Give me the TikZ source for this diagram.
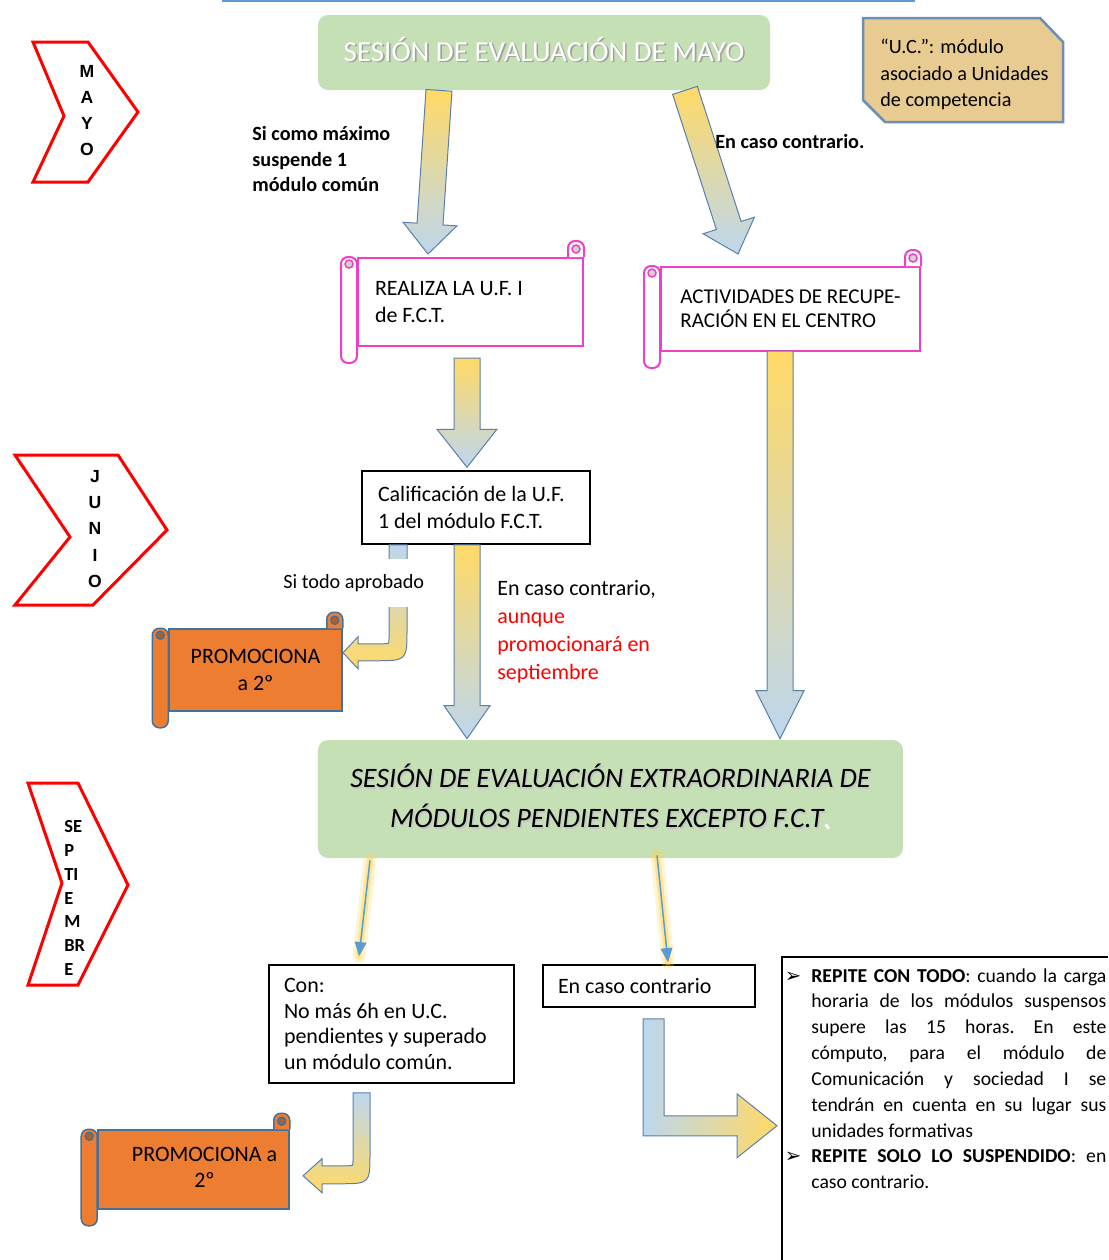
\documentclass[tikz,border=0pt]{standalone}
\usepackage{fontspec}
\setmainfont{Carlito}
\newfontfamily\arialfont{Liberation Sans}
\newfontfamily\simbolos{DejaVu Sans}
\usepackage{tikz}
\usetikzlibrary{arrows,calc,positioning}

\definecolor{verdecaja}{HTML}{C5E0B4}
\definecolor{amarilloflecha}{HTML}{FFD966}
\definecolor{azulflecha}{HTML}{BDD7EE}
\definecolor{bordeflecha}{HTML}{5B7FAA}
\definecolor{rosa}{HTML}{EE3FC6}
\definecolor{naranja}{HTML}{ED7D31}
\definecolor{bordenaranja}{HTML}{41719C}
\definecolor{pergamino}{HTML}{E8CB90}
\definecolor{bordenota}{HTML}{6E8FB5}
\definecolor{azullinea}{HTML}{5B9BD5}
\definecolor{brillo}{HTML}{FFD347}

\newcommand{\flechagorda}[6]{%
	\coordinate (fg-base) at ($(#2)!#5!(#1)$);
	\draw[#6] ($(#1)!#3!90:(#2)$) -- ($(fg-base)!#3!90:(#2)$) -- ($(fg-base)!#4!90:(#2)$) -- (#2) -- ($(fg-base)!#4!-90:(#2)$) -- ($(fg-base)!#3!-90:(#2)$) -- ($(#1)!#3!-90:(#2)$) -- cycle;
}
\newcommand{\rollos}[3]{%
	\draw[#2, rounded corners=1.4mm] ($(#1.north east)+(-16, 0)$) -- ($(#1.north east)+(-16, -16)$) -- ($(#1.north east)+(0, -16)$) -- (#1.north east);
	\draw[#3] ($(#1.north east)+(-8, -8)$) circle [radius=.8mm];
	\draw[#2, rounded corners=1.4mm] ($(#1.north west)+(-16, 0)$) rectangle ($(#1.south west)+(0, 16)$);
	\draw[#3] ($(#1.north west)+(-8, 7)$) circle [radius=.8mm];
}

\begin{document}
\begin{tikzpicture}[x=.2mm, y=-.2mm,
		texto/.style={font=\fontsize{12.5}{15}\selectfont},
		etiqueta/.style={font=\fontsize{11.5}{14.7}\selectfont, inner sep=0, align=left},
		caja/.style={draw=black, fill=white, line width=.3mm, align=flush left, texto},
		verde/.style={fill=verdecaja, rounded corners=2mm},
		cuerporosa/.style={draw=rosa, fill=white, line width=.4mm, align=flush left, texto},
		rollorosa/.style={draw=rosa, fill=white, line width=.4mm},
		rizorosa/.style={draw=rosa, fill=gray!35, line width=.3mm},
		cuerponaranja/.style={draw=bordenaranja, fill=naranja, line width=.3mm, align=center, texto},
		rollonaranja/.style={draw=bordenaranja, fill=naranja, line width=.3mm},
		rizonaranja/.style={draw=bordenaranja, fill=naranja!75!black, line width=.3mm},
		chevron/.style={draw=red, fill=white, line width=.6mm},
		mesletra/.style={font={\arialfont\bfseries\fontsize{10}{14.9}\selectfont}, align=center, inner sep=0},
		flechaT/.style={draw=bordeflecha, line width=.2mm, top color=amarilloflecha, bottom color=azulflecha},
		flechacurva/.style={draw=bordeflecha, line width=.2mm, top color=azulflecha, bottom color=amarilloflecha},
		flechaL/.style={draw=bordeflecha, line width=.2mm, left color=azulflecha, right color=amarilloflecha},
		brillo1/.style={draw=brillo, line width=2.6mm, opacity=.25, line cap=round},
		brillo2/.style={draw=brillo, line width=1.3mm, opacity=.45, line cap=round},
		flechafina/.style={draw=azullinea, line width=.3mm, -triangle 45}]
	\useasboundingbox (0, 0) rectangle (1108, 1260);
	\draw[azullinea, line width=.5mm] (222, 1) -- (915, 1);

	\draw[chevron] (33, 42) -- (88, 42) -- (138, 112) -- (88, 182) -- (33, 182) -- (64, 116) -- cycle;
	\node (mes-mayo) at (87, 110.5) [mesletra] {M\\A\\Y\\O};
	\draw[chevron] (15, 455) -- (118, 455) -- (167, 530) -- (93, 605) -- (15, 605) -- (70, 537) -- cycle;
	\node (mes-junio) at (95, 529) [mesletra] {J\\U\\N\\I\\O};
	\draw[chevron] (28, 783) -- (78, 783) -- (128, 885) -- (78, 985) -- (28, 985) -- (62, 883) -- cycle;
	\node (mes-sept) at (64, 898) [anchor=west, inner sep=0, align=left, font={\bfseries\fontsize{10.5}{13.5}\selectfont}] {SE\\P\\TI\\E\\M\\BR\\E};

	\node (mayo) at (544, 52.5) [verde, minimum width=90.4mm, minimum height=15mm] {};
	\node (mayo-sombra) at ($(mayo)+(1.6, -2)$) [text=gray!75, font=\fontsize{16.5}{20}\selectfont] {SESIÓN DE EVALUACIÓN DE MAYO};
	\node (mayo-titulo) at ($(mayo)+(0, -3.5)$) [text=white, font=\fontsize{16.5}{20}\selectfont] {SESIÓN DE EVALUACIÓN DE MAYO};

	\draw[fill=pergamino, draw=bordenota, line width=.5mm] (863, 18) -- (1040, 18) -- (1063, 42) -- (1063, 122) -- (885, 122) -- (863, 100) -- cycle;
	\node (uc) at (880, 74.5) [anchor=west, etiqueta, font=\fontsize{11.5}{15}\selectfont] {“U.C.”: módulo\\asociado a Unidades\\de competencia};

	\node (realiza) at (470.5, 302) [cuerporosa, minimum width=45mm, minimum height=17.6mm, text width=38.2mm, inner xsep=3.4mm] {REALIZA LA U.F. I\\de F.C.T.};
	\rollos{realiza}{rollorosa}{rizorosa}
	\node (activ) at (790.5, 309) [draw=rosa, fill=white, line width=.4mm, align=left, minimum width=51.8mm, minimum height=16.8mm, font=\fontsize{12}{13.6}\selectfont] {ACTIVIDADES DE RECUPE-\\RACIÓN EN EL CENTRO};
	\rollos{activ}{rollorosa}{rizorosa}

	\node (calif) at (476, 507.5) [caja, minimum width=45.6mm, minimum height=14.6mm, text width=39.2mm, inner xsep=3.2mm] {Calificación de la U.F.\\1 del módulo F.C.T.};

	\node (promo1) at (255.5, 670) [cuerponaranja, minimum width=34.6mm, minimum height=16.4mm] {PROMOCIONA\\a 2º};
	\rollos{promo1}{rollonaranja}{rizonaranja}

	\node (extra) at (610.5, 799) [verde, minimum width=117mm, minimum height=23.6mm] {};
	\node (extra-sombra) at ($(extra)+(1.5, -1.5)$) [text=gray!45, align=center, font=\itshape\fontsize{16}{22.7}\selectfont] {SESIÓN DE EVALUACIÓN EXTRAORDINARIA DE\\MÓDULOS PENDIENTES EXCEPTO F.C.T\textcolor{white}{.}};
	\node (extra-titulo) at ($(extra)+(0, -3)$) [align=center, font=\itshape\fontsize{16}{22.7}\selectfont] {SESIÓN DE EVALUACIÓN EXTRAORDINARIA DE\\MÓDULOS PENDIENTES EXCEPTO F.C.T\textcolor{white}{.}};

	\node (con) at (391.5, 1024) [caja, minimum width=49mm, minimum height=23.6mm, text width=43mm, inner xsep=3mm, font=\fontsize{12.5}{14.7}\selectfont] {Con:\\No más 6h en U.C.\\pendientes y superado\\un módulo común.};
	\node (contra) at (649, 986) [caja, minimum width=42.4mm, minimum height=8.4mm, text width=36.4mm, inner xsep=3mm] {En caso contrario};

	\node (promo2) at (193.5, 1169.5) [cuerponaranja, minimum width=38.2mm, minimum height=15.8mm] {};
	\rollos{promo2}{rollonaranja}{rizonaranja}
	\node (promo2-txt) at ($(promo2)+(11, -2)$) [align=center, texto] {PROMOCIONA a\\2º};

	\draw[line width=.3mm] (1108, 957) -- (782, 957) -- (782, 1260);
	\node (repite) at (811, 968) [anchor=north west, inner sep=0, text width=59mm, align=justify, font=\fontsize{11.2}{14.7}\selectfont] {\frenchspacing\hyphenpenalty=10000\exhyphenpenalty=10000\noindent\llap{{\simbolos ➢}\hspace{2mm}}\textbf{REPITE CON TODO}: cuando la carga\linebreak horaria de los módulos suspensos\linebreak supere las 15 horas. En este\linebreak cómputo, para el módulo de\linebreak Comunicación y sociedad I se\linebreak tendrán en cuenta en su lugar sus\linebreak unidades formativas\par\noindent\llap{{\simbolos ➢}\hspace{2mm}}\textbf{REPITE SOLO LO SUSPENDIDO}: en\linebreak caso contrario.};

	\coordinate (a1s) at ($(mayo.south)+(-105, 0)$);
	\coordinate (a1e) at ($(realiza.north)+(-42.5, -3)$);
	\coordinate (a2s) at ($(mayo.south)+(141, 0)$);
	\coordinate (a2e) at ($(activ.north)+(-52.5, -12)$);
	\coordinate (a3s) at ($(realiza.south)+(-3.5, 11)$);
	\coordinate (a3e) at ($(calif.north)+(-9, -3)$);
	\coordinate (a4s) at ($(calif.south)+(-9, 0)$);
	\coordinate (a4e) at ($(extra.north)+(-143.5, -1)$);
	\coordinate (a5s) at ($(activ.south)+(-10.5, -1)$);
	\coordinate (a5e) at ($(extra.north)+(169.5, -1)$);
	\flechagorda{a1s}{a1e}{2.6mm}{5.4mm}{6mm}{flechaT}
	\flechagorda{a2s}{a2e}{2.6mm}{5.4mm}{6mm}{flechaT}
	\flechagorda{a3s}{a3e}{2.6mm}{6mm}{7.6mm}{flechaT}
	\flechagorda{a4s}{a4e}{2.6mm}{4.6mm}{6.6mm}{flechaT}
	\flechagorda{a5s}{a5e}{2.6mm}{4.8mm}{9.6mm}{flechaT}

	\coordinate (b1) at ($(calif.south)+(-78, 0)$);
	\begin{scope}[shift={(b1)}]
		\draw[flechacurva] (-9, 0) -- (9, 0) -- (9, 84) .. controls (9, 116) .. (-23, 116) -- (-40, 116) -- (-40, 124) -- (-55, 108) -- (-40, 92) -- (-40, 99) -- (-14, 99) .. controls (-9, 99) .. (-9, 94) -- cycle;
	\end{scope}
	\node (aprobado) at (283, 583) [anchor=west, etiqueta, fill=white, minimum height=9.6mm] {Si todo aprobado};

	\coordinate (b2) at ($(con.south)+(-30, 9)$);
	\begin{scope}[shift={(b2)}]
		\draw[flechacurva] (-8.5, 0) -- (8.5, 0) -- (8.5, 60) .. controls (8.5, 91) .. (-22.5, 91) -- (-39.5, 91) -- (-39.5, 100) -- (-58.5, 83) -- (-39.5, 66) -- (-39.5, 73) -- (-13.5, 73) .. controls (-8.5, 73) .. (-8.5, 68) -- cycle;
	\end{scope}

	\coordinate (l1) at ($(contra.south)+(4.5, 11)$);
	\begin{scope}[shift={(l1)}]
		\draw[flechaL] (-10.5, 0) -- (10.5, 0) -- (10.5, 97) -- (83.5, 97) -- (83.5, 75) -- (123.5, 107) -- (83.5, 139) -- (83.5, 117) -- (-10.5, 117) -- cycle;
	\end{scope}

	\coordinate (t1s) at ($(extra.south)+(-240.5, 2)$);
	\coordinate (t1e) at ($(con.north)+(-32.5, -8)$);
	\coordinate (t2s) at ($(extra.south)+(46.5, -3)$);
	\coordinate (t2e) at ($(contra.north)+(19, -2)$);
	\draw[brillo1] (t1s) -- (t1e);
	\draw[brillo2] (t1s) -- (t1e);
	\draw[flechafina] (t1s) -- (t1e);
	\draw[brillo1] (t2s) -- (t2e);
	\draw[brillo2] (t2s) -- (t2e);
	\draw[flechafina] (t2s) -- (t2e);

	\node (maximo) at (252, 159) [anchor=west, etiqueta, font=\bfseries\fontsize{11.5}{14.7}\selectfont] {Si como máximo\\suspende 1\\módulo común};
	\node (contrario1) at (715, 141) [anchor=west, etiqueta, font=\bfseries\fontsize{11.5}{14.7}\selectfont] {En caso contrario.};
	\node (aunque) at (497, 632) [anchor=west, inner sep=0, align=left, font=\fontsize{12.5}{15.9}\selectfont] {En caso contrario,\\\textcolor{red}{aunque}\\\textcolor{red}{promocionará en}\\\textcolor{red}{septiembre}};
\end{tikzpicture}
\end{document}
